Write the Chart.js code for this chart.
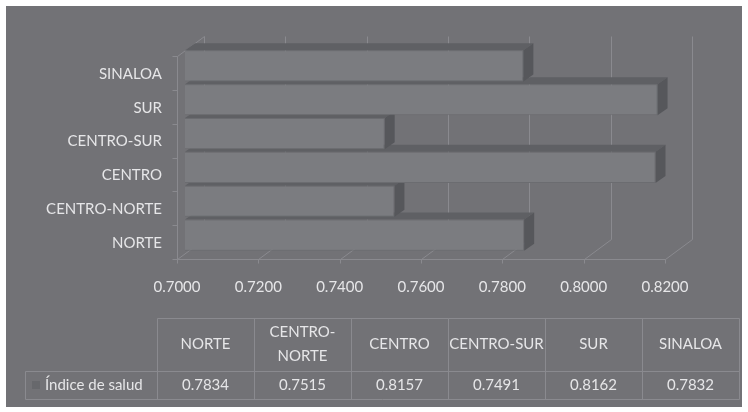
<!DOCTYPE html>
<html>
<head>
<meta charset="utf-8">
<script src="https://cdn.jsdelivr.net/npm/chart.js@4/dist/chart.umd.min.js"></script>
<style>
  html, body { margin: 0; background: #fff; }
  canvas { display: block; }
</style>
</head>
<body>
<canvas id="c" width="748" height="412"></canvas>
<script>
// datos
const regiones = ['NORTE', 'CENTRO-NORTE', 'CENTRO', 'CENTRO-SUR', 'SUR', 'SINALOA'];
const indiceSalud = [0.7834, 0.7515, 0.8157, 0.7491, 0.8162, 0.7832];
const ticksX = [0.70, 0.72, 0.74, 0.76, 0.78, 0.80, 0.82];
const serie = 'Índice de salud';

const FONDO = '#727276';
const BARRA = '#7b7c80';
const BORDE = '#6b6c70';
const BARRA_SUP = '#5f6064';
const BARRA_LAT = '#56575b';
const LINEA = '#8a8a8f';
const TEXTO = '#e6e6e8';
const FUENTE = 'Lato, "Open Sans", sans-serif';

// desplazamientos de la perspectiva
const FRENTE = { dx: -8, dy: 7 };
const FONDO3D = { dx: 19, dy: -13 };
const PROF = { dx: 10, dy: -7 };

function poly(ctx, pts, fill) {
  ctx.beginPath();
  ctx.moveTo(pts[0][0], pts[0][1]);
  for (let i = 1; i < pts.length; i++) ctx.lineTo(pts[i][0], pts[i][1]);
  ctx.closePath();
  ctx.fillStyle = fill;
  ctx.fill();
}

function line(ctx, x1, y1, x2, y2) {
  ctx.beginPath();
  ctx.moveTo(x1 + 0.5, y1 + 0.5);
  ctx.lineTo(x2 + 0.5, y2 + 0.5);
  ctx.stroke();
}

const marco3d = {
  id: 'marco3d',
  beforeDraw(chart) {
    const ctx = chart.ctx;
    ctx.save();
    ctx.fillStyle = '#fff';
    ctx.fillRect(0, 0, chart.width, chart.height);
    ctx.fillStyle = FONDO;
    ctx.fillRect(6, 6, 736, 401);
    ctx.restore();
  },
  beforeDatasetsDraw(chart) {
    const ctx = chart.ctx;
    const a = chart.chartArea;
    const xs = chart.scales.x;
    const n = regiones.length;
    const fb = a.bottom + FRENTE.dy, ft = a.top + FRENTE.dy;
    const bb = a.bottom + FONDO3D.dy, bt = a.top + FONDO3D.dy;
    ctx.save();
    ctx.strokeStyle = LINEA;
    ctx.lineWidth = 1;
    // pared del fondo y piso
    ticksX.forEach(v => {
      const p = Math.round(xs.getPixelForValue(v));
      line(ctx, p + FONDO3D.dx, bt, p + FONDO3D.dx, bb);
      line(ctx, p + FONDO3D.dx, bb, p + FRENTE.dx, fb);
      line(ctx, p + FRENTE.dx, fb, p + FRENTE.dx, fb + 4);
    });
    const l = a.left + FRENTE.dx, r = Math.round(xs.getPixelForValue(0.82)) + FRENTE.dx;
    line(ctx, l, fb, r, fb);
    // pared izquierda
    line(ctx, l, ft, l, fb);
    line(ctx, l, ft, a.left + FONDO3D.dx, bt);
    const h = (fb - ft) / n;
    for (let i = 0; i <= n; i++) {
      const y = Math.round(ft + i * h);
      line(ctx, l - 5, y, l, y);
    }
    // caras superior y lateral de cada barra, de abajo hacia arriba
    const meta = chart.getDatasetMeta(0);
    meta.data.forEach(el => {
      const p = el.getProps(['x', 'y', 'base', 'height'], true);
      const x0 = Math.max(p.base, a.left), x1 = p.x;
      const top = p.y - p.height / 2, bot = p.y + p.height / 2;
      poly(ctx, [[x0, top], [x1, top], [x1 + PROF.dx, top + PROF.dy], [x0 + PROF.dx, top + PROF.dy]], BARRA_SUP);
      poly(ctx, [[x1, top], [x1 + PROF.dx, top + PROF.dy], [x1 + PROF.dx, bot + PROF.dy], [x1, bot]], BARRA_LAT);
    });
    ctx.restore();
  },
  afterDraw(chart) {
    // tabla de datos
    const ctx = chart.ctx;
    const cols = [157, 254, 351, 448, 545, 642, 739];
    const y0 = 318, y1 = 371, y2 = 399, xl = 25;
    ctx.save();
    ctx.strokeStyle = LINEA;
    ctx.lineWidth = 1;
    line(ctx, cols[0], y0, cols[6], y0);
    line(ctx, xl, y1, cols[6], y1);
    line(ctx, xl, y2, cols[6], y2);
    line(ctx, xl, y1, xl, y2);
    cols.forEach(c => line(ctx, c, y0, c, y2));
    ctx.fillStyle = TEXTO;
    ctx.font = '15px ' + FUENTE;
    ctx.textAlign = 'center';
    ctx.textBaseline = 'middle';
    regiones.forEach((reg, i) => {
      const cx = (cols[i] + cols[i + 1]) / 2;
      if (reg === 'CENTRO-NORTE') {
        ctx.fillText('CENTRO-', cx, 332);
        ctx.fillText('NORTE', cx, 356);
      } else {
        ctx.fillText(reg, cx, 344);
      }
      ctx.fillText(indiceSalud[i].toFixed(4), cx, 385);
    });
    ctx.fillStyle = '#67686c';
    ctx.fillRect(32, 381, 8, 8);
    ctx.fillStyle = TEXTO;
    ctx.textAlign = 'left';
    ctx.fillText(serie, 45, 385);
    ctx.restore();
  }
};

new Chart(document.getElementById('c'), {
  type: 'bar',
  data: {
    labels: regiones,
    datasets: [{
      label: serie,
      data: indiceSalud,
      backgroundColor: BARRA,
      borderColor: BORDE,
      borderWidth: 1,
      borderSkipped: false,
      categoryPercentage: 1,
      barPercentage: 0.92
    }]
  },
  options: {
    indexAxis: 'y',
    responsive: false,
    animation: false,
    layout: { padding: { left: 0, top: 49, right: 75, bottom: 0 } },
    plugins: { legend: { display: false }, tooltip: { enabled: false } },
    scales: {
      x: {
        min: 0.7,
        max: 0.82,
        afterBuildTicks: s => { s.ticks = ticksX.map(v => ({ value: v })); },
        afterFit: s => { s.height = 160; },
        grid: { display: false, drawTicks: false },
        border: { display: false },
        ticks: {
          color: TEXTO,
          font: { family: FUENTE, size: 15 },
          padding: 26,
          labelOffset: FRENTE.dx,
          maxRotation: 0,
          autoSkip: false,
          callback: v => Number(v).toFixed(4)
        }
      },
      y: {
        reverse: true,
        afterFit: s => { s.width = 185; },
        grid: { display: false, drawTicks: false },
        border: { display: false },
        ticks: {
          color: TEXTO,
          font: { family: FUENTE, size: 15 },
          padding: 23,
          labelOffset: 8
        }
      }
    }
  },
  plugins: [marco3d]
});
</script>
</body>
</html>
